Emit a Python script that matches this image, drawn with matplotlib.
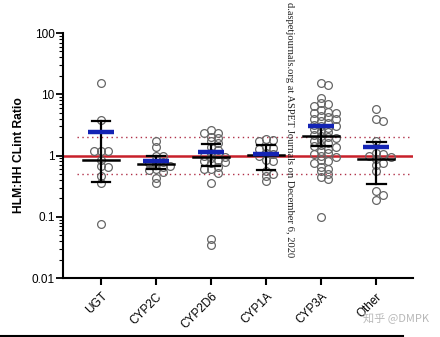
import numpy as np
import matplotlib
matplotlib.use('Agg')
import matplotlib.pyplot as plt
from matplotlib.lines import Line2D
from matplotlib.ticker import LogLocator, FixedLocator, FixedFormatter, NullFormatter

plt.rcParams['font.family'] = ['Liberation Sans', 'DejaVu Sans']

# ---- data ----
categories = ['UGT', 'CYP2C', 'CYP2D6', 'CYP1A', 'CYP3A', 'Other']

ugt = [15, 3.8, 1.2, 1.2, 1.2, 0.83, 0.68, 0.65, 0.46, 0.36, 0.075]
cyp2c = [1.7, 1.4, 1.0, 0.98, 0.85, 0.78, 0.75, 0.72, 0.68, 0.65, 0.6, 0.58,
         0.53, 0.43, 0.35]
cyp2d6 = [2.6, 2.3, 2.3, 2.0, 1.9, 1.7, 1.6, 1.4, 1.25, 1.1, 1.05, 1.0, 0.95,
          0.9, 0.85, 0.8, 0.78, 0.75, 0.65, 0.6, 0.6, 0.52, 0.35, 0.043, 0.034]
cyp1a = [1.85, 1.8, 1.7, 1.4, 1.35, 1.3, 1.1, 1.05, 1.0, 0.86, 0.8, 0.55, 0.5,
         0.47, 0.38]
cyp3a = [15.5, 14, 8.8, 7.2, 7.0, 6.5, 5.5, 5.2, 5.0, 5.0, 4.5, 4.2, 4.0, 3.9,
         3.6, 3.4, 3.2, 3.0, 3.0, 2.8, 2.7, 2.5, 2.4, 2.2, 2.1, 2.0, 1.9, 1.8,
         1.75, 1.6, 1.5, 1.45, 1.4, 1.3, 1.2, 1.1, 1.05, 1.0, 0.95, 0.85, 0.8,
         0.75, 0.65, 0.6, 0.55, 0.5, 0.45, 0.42, 0.1]
other = [5.8, 4.0, 3.7, 1.7, 1.1, 1.05, 1.0, 0.95, 0.88, 0.76, 0.71, 0.55,
         0.26, 0.23, 0.19]
groups = [ugt, cyp2c, cyp2d6, cyp1a, cyp3a, other]

means = [2.4, 0.8, 1.13, 1.07, 3.0, 1.39]
medians = [0.86, 0.72, 0.95, 1.03, 2.07, 0.88]
err_low = [0.37, 0.6, 0.67, 0.57, 1.42, 0.34]
err_high = [3.7, 0.97, 1.57, 1.47, 2.9, 1.65]

ref_line = 1
fold_lines = [0.5, 2]

yticks = [0.01, 0.1, 1, 10, 100]
ytick_labels = ['0.01', '0.1', '1', '10', '100']

# ---- figure ----
fig = plt.figure(figsize=(4.4, 3.37), dpi=100)
ax = fig.add_axes([0.143, 0.175, 0.796, 0.727])
ax.set_yscale('log')
ax.set_ylim(0.01, 100)
ax.set_xlim(-0.69, 5.67)

for s in ['top', 'right']:
    ax.spines[s].set_visible(False)
for s in ['left', 'bottom']:
    ax.spines[s].set_linewidth(1.5)

# reference lines
ax.plot([-0.69, 5.65], [ref_line, ref_line], color='#c8202a', lw=1.8, zorder=1)
for f in fold_lines:
    ax.plot([-0.44, 5.65], [f, f], color='#b03048', lw=1.0, ls=(0, (1, 2.5)),
            zorder=1)


def swarm(values, center, diam_px=7.2):
    """rough beeswarm, points may overlap a bit vertically (prism style)"""
    vals = sorted(values, reverse=True)
    placed = []
    out = []
    for v in vals:
        cx, cy = ax.transData.transform((center, v))
        k = 0
        while True:
            off = ((k + 1) // 2) * diam_px * (1 if k % 2 else -1) if k else 0
            ok = True
            for px, py in placed:
                if abs(cx + off - px) < diam_px * 0.9 and abs(cy - py) < diam_px * 0.55:
                    ok = False
                    break
            if ok:
                break
            k += 1
        placed.append((cx + off, cy))
        out.append(ax.transData.inverted().transform((cx + off, cy)))
    return np.array(out)


for i, g in enumerate(groups):
    pts = swarm(g, i)
    ax.plot(pts[:, 0], pts[:, 1], 'o', ms=5.6, mfc='none', mec='#666666',
            mew=0.9, zorder=3, clip_on=False)

for i in range(len(categories)):
    # error bar
    ax.plot([i, i], [err_low[i], err_high[i]], color='black', lw=1.6, zorder=4)
    for e in (err_low[i], err_high[i]):
        ax.plot([i - 0.17, i + 0.17], [e, e], color='black', lw=1.6, zorder=4)
    # median
    ax.plot([i - 0.33, i + 0.33], [medians[i], medians[i]], color='black',
            lw=1.8, zorder=4)
    # mean
    ax.plot([i - 0.24, i + 0.24], [means[i], means[i]], color='#1424b4',
            lw=3.2, zorder=5, solid_capstyle='butt')

ax.yaxis.set_major_locator(FixedLocator(yticks))
ax.yaxis.set_major_formatter(FixedFormatter(ytick_labels))
ax.yaxis.set_minor_locator(LogLocator(base=10, subs=np.arange(2, 10)))
ax.yaxis.set_minor_formatter(NullFormatter())
ax.tick_params(axis='y', which='major', length=5, width=1.3, labelsize=8.5,
               pad=1)
ax.tick_params(axis='y', which='minor', length=3, width=0.8)

ax.set_xticks(range(len(categories)))
ax.set_xticklabels(categories, rotation=45, ha='right', va='top',
                   rotation_mode='anchor', fontsize=8.5)
ax.tick_params(axis='x', length=5, width=1.5, pad=4)

ax.set_ylabel('HLM:HH CLint Ratio', fontsize=8.7, fontweight='bold', labelpad=5)

# overlays from the source image
fig.text(0.659, 0.995, 'd.aspetjournals.org at ASPET Journals on December 6, 2020',
         rotation=270, ha='center', va='top', fontsize=7.6,
         family=['Liberation Serif', 'DejaVu Serif'], color='#222222')
fig.text(0.975, 0.055, '知乎 @DMPK', ha='right', va='center', fontsize=8,
         family=['Noto Sans CJK SC', 'DejaVu Sans'], color='#b8b8b8')
fig.add_artist(Line2D([0.0, 0.916], [0.004, 0.004], color='black', lw=1.5,
                      transform=fig.transFigure))

fig.savefig('out.png', dpi=100)
